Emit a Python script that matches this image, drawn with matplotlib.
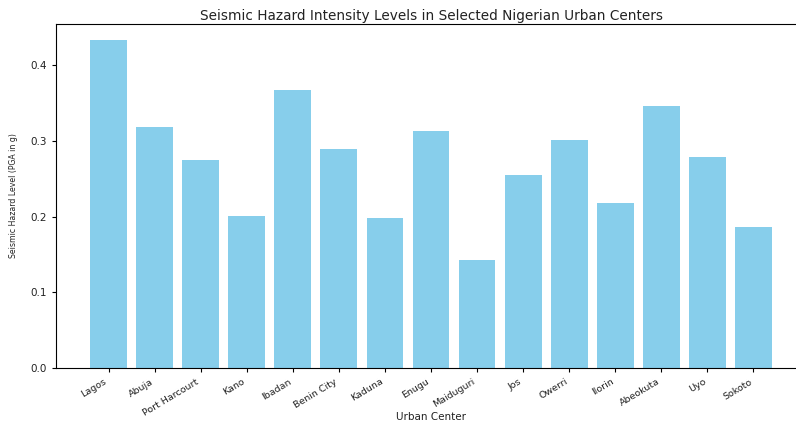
import matplotlib
matplotlib.use("Agg")
import matplotlib.pyplot as plt

cities = ["Lagos", "Abuja", "Port Harcourt", "Kano", "Ibadan", "Benin City",
          "Kaduna", "Enugu", "Maiduguri", "Jos", "Owerri", "Ilorin",
          "Abeokuta", "Uyo", "Sokoto"]
pga = [0.433, 0.318, 0.275, 0.201, 0.367, 0.289, 0.198, 0.313, 0.143,
       0.255, 0.301, 0.218, 0.346, 0.279, 0.186]

W, H = 796, 422
ax_bottom, ax_height = 54, 344
fig = plt.figure(figsize=(W / 100, H / 100), dpi=100)
ax = fig.add_axes([56 / W, ax_bottom / H, 750 / W, ax_height / H])

ax.bar(cities, pga, color="skyblue", width=0.8)
ax.set_title("Seismic Hazard Intensity Levels in Selected Nigerian Urban Centers",
             fontsize=9.8, pad=3, color="#222222")
ax.set_ylabel("Seismic Hazard Level (PGA in g)", fontsize=6.2,
              family="DejaVu Sans", fontstretch="condensed", labelpad=9,
              color="#222222")
ax.set_xlabel("Urban Center", fontsize=7.5, color="#222222", va="bottom")
ax.xaxis.set_label_coords(0.5, (0.5 - ax_bottom) / ax_height)
ax.tick_params(axis="y", labelsize=7.5, length=3, labelcolor="#222222")
ax.tick_params(axis="x", labelsize=6.8, length=3, labelcolor="#222222")
ax.set_yticks([0.0, 0.1, 0.2, 0.3, 0.4])
plt.setp(ax.get_xticklabels(), rotation=31, ha="right", rotation_mode="default")

fig.savefig("out.png", dpi=100)
